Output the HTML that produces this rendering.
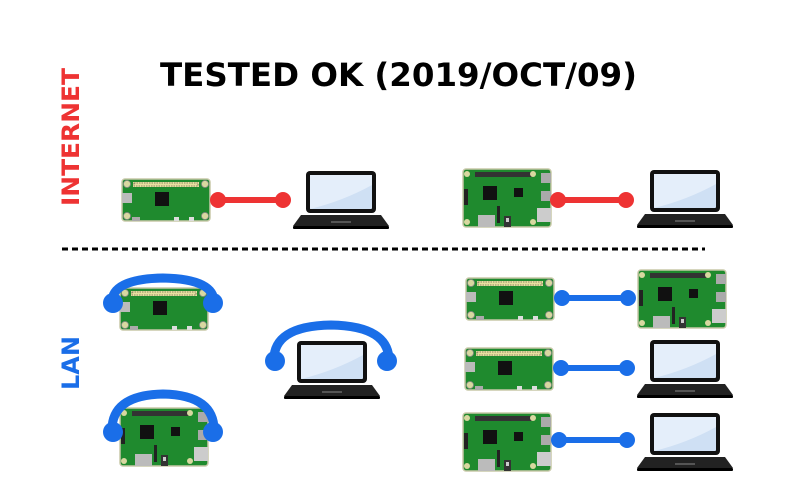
<!DOCTYPE html>
<html><head><meta charset="utf-8"><style>
html,body{margin:0;padding:0;background:#fff;width:800px;height:500px;overflow:hidden}
</style></head><body>
<svg width="800" height="500" viewBox="0 0 800 500" xmlns="http://www.w3.org/2000/svg">
<defs>
<g id="zero">
<rect x="0" y="0" width="88" height="42" rx="3" fill="#1f8a2e" stroke="#c8c8a8" stroke-width="1.5"/>
<rect x="11" y="3" width="66" height="5" fill="#e8e0a0"/>
<rect x="12" y="4" width="64" height="3" fill="none" stroke="#333" stroke-width="0.6" stroke-dasharray="1.5 1"/>
<circle cx="5" cy="5" r="3.5" fill="#d8d8a0" stroke="#888" stroke-width="0.8"/>
<circle cx="83" cy="5" r="3.5" fill="#d8d8a0" stroke="#888" stroke-width="0.8"/>
<circle cx="5" cy="37" r="3.5" fill="#d8d8a0" stroke="#888" stroke-width="0.8"/>
<circle cx="83" cy="37" r="3.5" fill="#d8d8a0" stroke="#888" stroke-width="0.8"/>
<rect x="33" y="13" width="14" height="14" fill="#111"/>
<rect x="0" y="14" width="10" height="10" fill="#bbb"/>
<rect x="10" y="38" width="8" height="4" fill="#aaa"/>
<rect x="52" y="38" width="5" height="4" fill="#ddd"/>
<rect x="67" y="38" width="5" height="4" fill="#ddd"/>
</g>
<g id="pi3">
<rect x="0" y="0" width="88" height="58" rx="3" fill="#1f8a2e" stroke="#c8c8a8" stroke-width="1.5"/>
<rect x="12" y="3" width="57" height="5" fill="#333"/>
<circle cx="4" cy="5" r="3" fill="#d8d8a0"/>
<circle cx="70" cy="5" r="3" fill="#d8d8a0"/>
<circle cx="4" cy="53" r="3" fill="#d8d8a0"/>
<circle cx="70" cy="53" r="3" fill="#d8d8a0"/>
<rect x="20" y="17" width="14" height="14" fill="#111"/>
<rect x="51" y="19" width="9" height="9" fill="#111"/>
<rect x="1" y="20" width="4" height="16" fill="#222"/>
<rect x="78" y="4" width="10" height="10" fill="#aaa"/>
<rect x="78" y="22" width="10" height="10" fill="#aaa"/>
<rect x="74" y="39" width="14" height="14" fill="#ccc"/>
<rect x="15" y="46" width="17" height="12" fill="#bbb"/>
<rect x="34" y="37" width="3" height="17" fill="#222"/>
<rect x="41" y="47" width="7" height="11" fill="#333"/>
<rect x="43" y="49" width="3" height="4" fill="#ccc"/>
</g>
<g id="lap">
<rect x="13" y="0" width="70" height="42" rx="4" fill="#111"/>
<rect x="17" y="4" width="62" height="34" rx="1" fill="#cfe0f4"/>
<path d="M17 4 L79 4 L79 14 Q50 30 17 38 Z" fill="#e4eefa"/>
<path d="M8 44 L88 44 L96 55 L0 55 Z" fill="#222"/>
<rect x="0" y="55" width="96" height="3" rx="1" fill="#000"/>
<rect x="38" y="50" width="20" height="2" fill="#555"/>
</g>
</defs>

<text x="160" y="86" font-family="DejaVu Sans, Liberation Sans, sans-serif" font-weight="bold" font-size="32" fill="#000" textLength="477" lengthAdjust="spacingAndGlyphs">TESTED OK (2019/OCT/09)</text>
<text transform="translate(79,206) rotate(-90)" font-family="DejaVu Sans, Liberation Sans, sans-serif" font-weight="bold" font-size="24" fill="#ee3333" textLength="138" lengthAdjust="spacingAndGlyphs">INTERNET</text>
<text transform="translate(79,390) rotate(-90)" font-family="DejaVu Sans, Liberation Sans, sans-serif" font-weight="bold" font-size="24" fill="#1a6ee8">LAN</text>
<line x1="62" y1="249" x2="705" y2="249" stroke="#000" stroke-width="3" stroke-dasharray="6 4"/>

<use href="#zero" x="122" y="179"/>
<line x1="218" y1="200" x2="283" y2="200" stroke="#ee3333" stroke-width="6"/>
<circle cx="218" cy="200" r="8" fill="#ee3333"/><circle cx="283" cy="200" r="8" fill="#ee3333"/>
<use href="#lap" x="293" y="171"/>

<use href="#pi3" x="463" y="169"/>
<line x1="558" y1="200" x2="626" y2="200" stroke="#ee3333" stroke-width="6"/>
<circle cx="558" cy="200" r="8" fill="#ee3333"/><circle cx="626" cy="200" r="8" fill="#ee3333"/>
<use href="#lap" x="637" y="170"/>

<use href="#zero" x="120" y="288"/>
<path d="M112 304 Q110 279 163 278 Q216 279 214 304" fill="none" stroke="#1a6ee8" stroke-width="9"/>
<circle cx="113" cy="303" r="10" fill="#1a6ee8"/><circle cx="213" cy="303" r="10" fill="#1a6ee8"/>

<use href="#lap" x="284" y="341"/>
<path d="M274 362 Q272 326 331 325 Q390 326 389 362" fill="none" stroke="#1a6ee8" stroke-width="9"/>
<circle cx="275" cy="361" r="10" fill="#1a6ee8"/><circle cx="387" cy="361" r="10" fill="#1a6ee8"/>

<use href="#pi3" x="120" y="408"/>
<path d="M112 433 Q110 395 163 394 Q216 395 214 433" fill="none" stroke="#1a6ee8" stroke-width="9"/>
<circle cx="113" cy="432" r="10" fill="#1a6ee8"/><circle cx="213" cy="432" r="10" fill="#1a6ee8"/>

<use href="#zero" x="466" y="278"/>
<line x1="562" y1="298" x2="628" y2="298" stroke="#1a6ee8" stroke-width="6"/>
<circle cx="562" cy="298" r="8" fill="#1a6ee8"/><circle cx="628" cy="298" r="8" fill="#1a6ee8"/>
<use href="#pi3" x="638" y="270"/>

<use href="#zero" x="465" y="348"/>
<line x1="561" y1="368" x2="627" y2="368" stroke="#1a6ee8" stroke-width="6"/>
<circle cx="561" cy="368" r="8" fill="#1a6ee8"/><circle cx="627" cy="368" r="8" fill="#1a6ee8"/>
<use href="#lap" x="637" y="340"/>

<use href="#pi3" x="463" y="413"/>
<line x1="559" y1="440" x2="627" y2="440" stroke="#1a6ee8" stroke-width="6"/>
<circle cx="559" cy="440" r="8" fill="#1a6ee8"/><circle cx="627" cy="440" r="8" fill="#1a6ee8"/>
<use href="#lap" x="637" y="413"/>
</svg>
</body></html>
